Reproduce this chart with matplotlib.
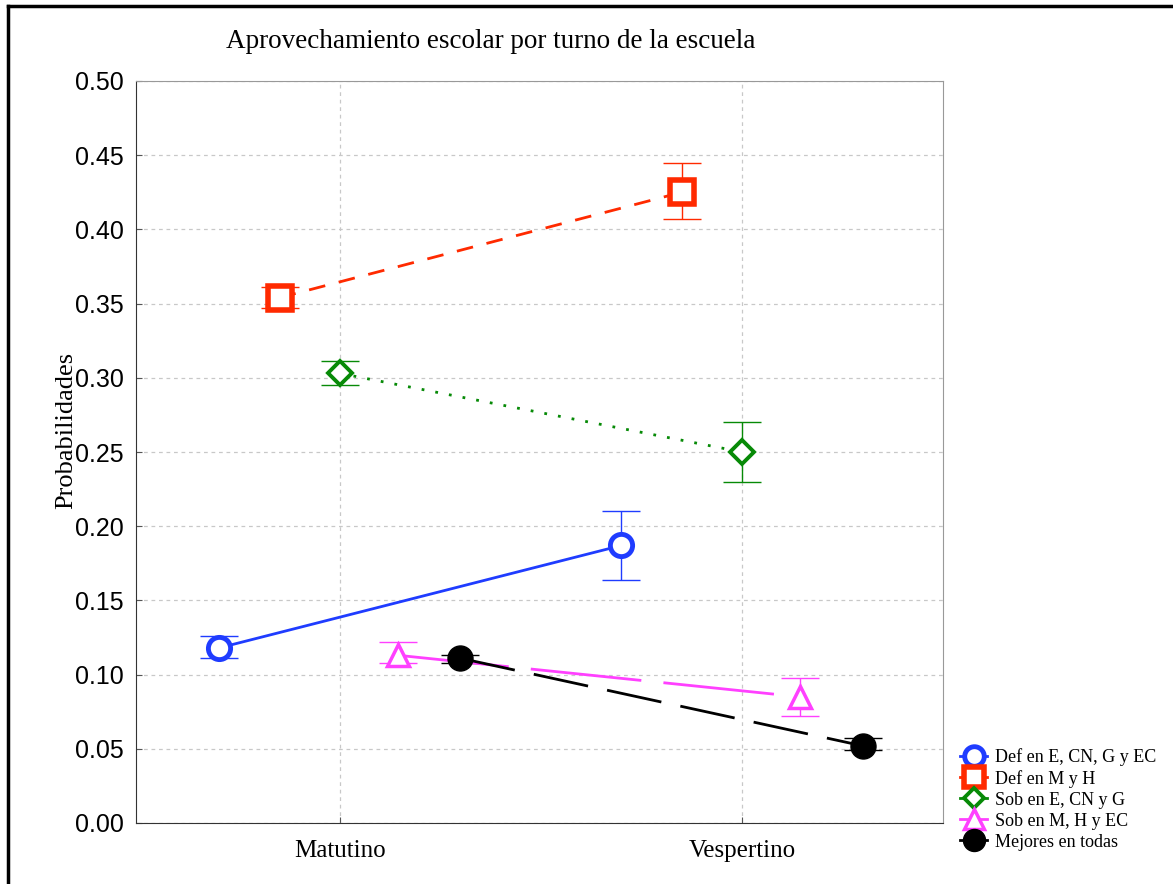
import numpy as np
import matplotlib.pyplot as plt
from matplotlib.lines import Line2D

turnos = ["Matutino", "Vespertino"]
series = ["Def en E, CN, G y EC", "Def en M y H", "Sob en E, CN y G",
          "Sob en M, H y EC", "Mejores en todas"]

def_ecng = [0.118, 0.187]
def_ecng_lo = [0.111, 0.164]
def_ecng_hi = [0.126, 0.210]

def_mh = [0.354, 0.425]
def_mh_lo = [0.347, 0.407]
def_mh_hi = [0.361, 0.445]

sob_ecng = [0.303, 0.250]
sob_ecng_lo = [0.295, 0.230]
sob_ecng_hi = [0.311, 0.270]

sob_mhec = [0.113, 0.085]
sob_mhec_lo = [0.108, 0.072]
sob_mhec_hi = [0.122, 0.098]

mejores = [0.111, 0.052]
mejores_lo = [0.108, 0.049]
mejores_hi = [0.113, 0.057]

serif = ["Liberation Serif", "DejaVu Serif"]
sans = ["Liberation Sans", "DejaVu Sans"]

fig = plt.figure(figsize=(11.73, 8.84), dpi=100)
ax = fig.add_axes([136/1173, 61/884, 807/1173, 742/884])

# estilo por serie: color, marcador, tamaño, grosor borde, relleno, linea, desplazamiento
styles = [
    ("#1f3cff", "o", 16, 3.5, "white", "-", -0.30),
    ("#ff2a00", "s", 17, 4.0, "white", (0, (6, 5)), -0.15),
    ("#078a07", "D", 12, 2.8, "white", (0, (1, 4)), 0.0),
    ("#ff40ff", "^", 16, 2.5, "white", (0, (40, 8)), 0.145),
    ("black", "o", 18, 1.0, "black", (0, (20, 7)), 0.30),
]
datos = [
    (def_ecng, def_ecng_lo, def_ecng_hi),
    (def_mh, def_mh_lo, def_mh_hi),
    (sob_ecng, sob_ecng_lo, sob_ecng_hi),
    (sob_mhec, sob_mhec_lo, sob_mhec_hi),
    (mejores, mejores_lo, mejores_hi),
]

x = np.arange(len(turnos))
handles = []
for (vals, lo, hi), st, name in zip(datos, styles, series):
    color, mk, ms, mew, fc, ls, off = st
    vals = np.array(vals); lo = np.array(lo); hi = np.array(hi)
    xs = x + off
    ax.errorbar(xs, vals, yerr=[vals - lo, hi - vals], fmt="none",
                ecolor=color, elinewidth=1.0, capsize=14, capthick=1.0, zorder=2)
    ax.plot(xs, vals, color=color, linestyle=ls, linewidth=2, zorder=3)
    ax.plot(xs, vals, linestyle="none", marker=mk, ms=ms, mec=color,
            mfc=fc, mew=mew, zorder=4)
    handles.append(Line2D([], [], color=color, linestyle="-", linewidth=2,
                          marker=mk, ms=ms * 0.88, mec=color, mfc=fc, mew=mew,
                          label=name))

ax.set_xlim(-0.507, 1.5)
ax.set_ylim(0, 0.5)
ax.set_xticks(x)
ax.set_xticklabels(turnos, fontfamily=serif, fontsize=18)
ax.set_yticks(np.arange(0, 0.51, 0.05))
ax.set_yticklabels([f"{v:.2f}" for v in np.arange(0, 0.51, 0.05)],
                   fontfamily=sans, fontsize=18)
ax.tick_params(axis="both", direction="in", length=4, color="#555555")
ax.tick_params(axis="x", pad=12)
ax.tick_params(axis="y", pad=9)
ax.grid(True, color="#c8c8c8", linestyle=(0, (3, 3)), linewidth=0.9)
ax.set_axisbelow(True)
for side in ["left", "bottom"]:
    ax.spines[side].set_color("#333333")
for side in ["top", "right"]:
    ax.spines[side].set_color("#999999")

fig.text(491/1173, 1 - 42/884, "Aprovechamiento escolar por turno de la escuela",
         ha="center", va="center", fontfamily=serif, fontsize=19.5)
fig.text(66/1173, 1 - 430/884, "Probabilidades", rotation=90,
         ha="center", va="center", fontfamily=serif, fontsize=19)

fig.legend(handles=handles, loc="upper left",
           bbox_to_anchor=(960/1173, 1 - 748/884), frameon=False,
           prop={"family": serif, "size": 13}, handlelength=1.5,
           handletextpad=0.45, labelspacing=0.22, borderpad=0, borderaxespad=0)

# marco exterior
fig.add_artist(Line2D([8/1173, 8/1173], [0, 1 - 6/884], color="black",
                      linewidth=2.5, transform=fig.transFigure))
fig.add_artist(Line2D([8/1173, 1], [1 - 6/884, 1 - 6/884], color="black",
                      linewidth=2.5, transform=fig.transFigure))

fig.savefig("out.png", dpi=100)
